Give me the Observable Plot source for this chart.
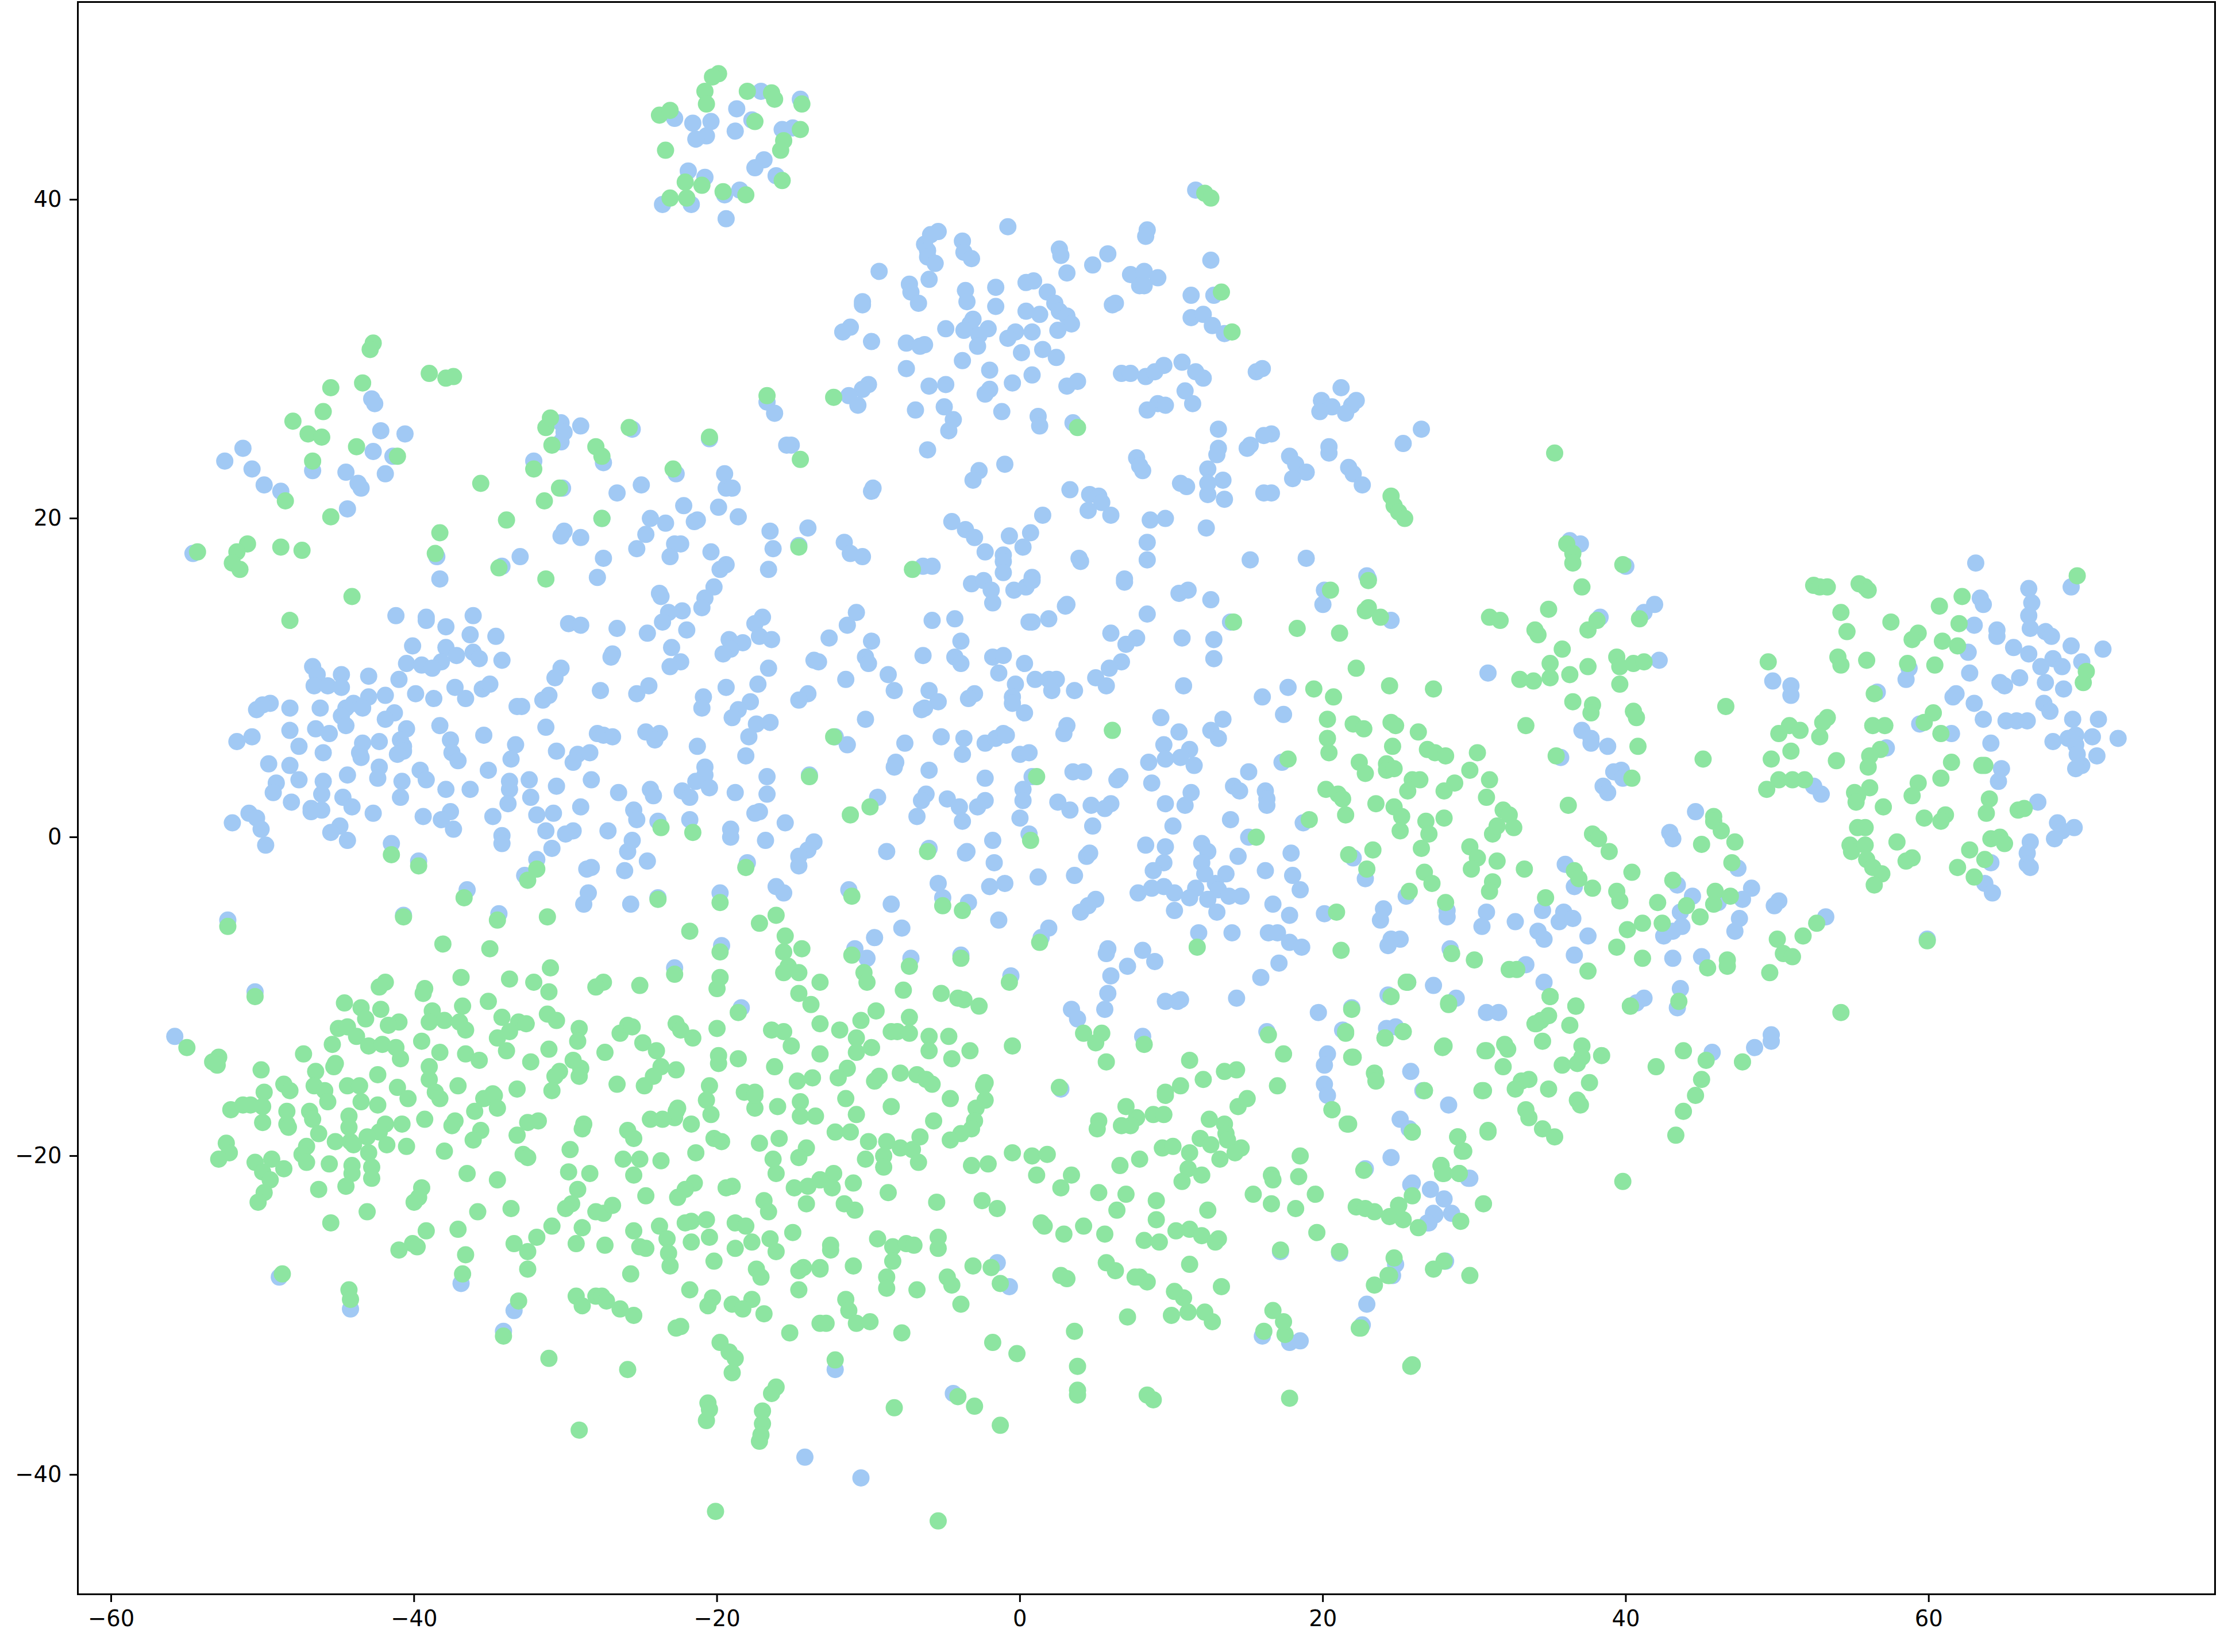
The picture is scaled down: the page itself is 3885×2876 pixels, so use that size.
<!DOCTYPE html>
<html>
<head>
<meta charset="utf-8">
<style>html,body{margin:0;padding:0;background:#fff}svg{display:block}</style>
<script src="https://cdn.jsdelivr.net/npm/d3@7"></script>
<script src="https://cdn.jsdelivr.net/npm/@observablehq/plot@0.6"></script>
</head>
<body>
<div id="chart"></div>
<script>
const xTicks = [-60,-40,-20,0,20,40,60];
const yTicks = [-40,-20,0,20,40];
const blueColor = "#a1c9f4";
const greenColor = "#8de5a1";

const bluePoints = [
[-22.8,45.1],[-21.6,44.8],[-20.4,44.9],[-18.7,45.7],[-17.1,46.8],[-14.5,46.3],[-17.7,45],[-18.8,44.3],[-20.7,44],[-21.4,43.8],[-15.7,44.4],[-15,44.5],[-16.9,42.5],[-17.5,42],[-16.1,41.5],[-21.9,41.8],[-20.8,41.4],[-18.5,40.6],[-19.5,40.3],[-23.6,39.7],[-21.7,39.7],[-19.4,38.8],
[-42.8,27.5],[-42.6,27.2],[-42.2,25.5],[-40.6,25.3],[-51.3,24.4],[-52.5,23.6],[-50.7,23.1],[-49.9,22.1],[-48.8,21.7],[-46.7,23],[-42.7,24.2],[-41.4,23.9],[-44.5,22.9],[-41.9,22.8],[-43.7,22.2],[-43.5,21.9],[-44.4,20.6],[-30.3,26],[-30.1,25.4],[-30.3,24.8],[-29,25.8],[-32.1,23.6],[-27.5,23.5],[-25.6,25.6],[-30.2,21.9],[-26.6,21.6],[-25,22.1],[-22.7,22.8],[-22.2,20.8],[-19.9,20.7],[-19.5,22.8],[-19.4,21.9],[-19,21.9],[-18.6,20.1],[-24.4,20],[-23.4,19.7],[-21.5,19.8],[-21.3,19.9],[-24.7,19],[-25.3,18.1],[-30.1,19.2],[-30.3,18.9],[-29,18.8],[-27.5,17.5],[-33,17.6],[-34.2,17],[-22.8,18.4],[-22.4,18.4],[-23.1,17.6],[-20.4,17.9],[-16.5,19.2],[-16.3,18.1],[-14,19.4],[-19.4,17.1],[-19.8,16.8],[-16.6,16.8],[-16.7,27.3],[-16.2,26.6],[-15.1,24.6],[-15.4,24.6],[-27.6,20],[-54.6,17.8],[-38.5,17.6],[-38.3,16.2],[-27.9,16.3],[-20.5,25],[-14.6,18.3],
[-0.8,38.3],[-5.4,38],[-5.9,37.8],[-6.3,37.2],[-6.1,36.8],[-6.1,36.4],[-5.6,36],[-3.8,37.4],[-3.7,36.7],[-3.2,36.3],[2.6,36.9],[2.7,36.5],[5.8,36.6],[4.8,35.9],[3.1,35.4],[8.4,38.1],[8.3,37.7],[12.6,36.2],[-9.3,35.5],[-6,35],[-7.3,34.7],[-7.2,34.2],[-6.7,33.5],[-10.4,33.6],[-10.4,33.4],[-11.2,32],[-11.7,31.7],[-9.8,31.1],[-3.6,34.3],[-3.5,33.6],[-1.6,34.5],[-1.6,33.3],[0.4,34.8],[0.9,34.9],[1.8,34.2],[2.3,33.5],[2.6,33],[3.1,32.7],[3.4,32.2],[2.5,31.8],[0.4,33],[1.3,32.8],[-3.1,32.5],[-3.3,32.2],[-3.7,31.8],[-4.9,31.9],[-2.1,31.9],[-2.7,31.5],[-2.8,30.8],[-0.3,31.7],[-0.8,31.3],[0.8,31.7],[-7.5,31],[-6.6,30.8],[-6.3,30.9],[0.1,30.4],[1.5,30.6],[2.4,30.1],[-3.8,29.9],[-7.5,29.4],[-2,29.3],[0.8,29],[-0.5,28.5],[-6,28.3],[-4.9,28.4],[-2,28.1],[-2.3,27.8],[3.1,28.3],[3.8,28.6],[-10,28.4],[-10.4,28.1],[-11.3,27.7],[-10.7,27.1],[-6.9,26.8],[-5,27],[-4.4,26.2],[-4.7,25.5],[-1.2,26.7],[1.2,26.4],[1.3,25.8],[3.5,26],[-6.1,24.3],[-2.7,23],[-3.1,22.4],[-1,23.4],[-9.7,21.9],[-9.8,21.7],[3.3,21.8],[4.6,21.5],[5.2,21.4],[5.4,21],[4.5,20.5],[1.5,20.2],[6,20.2],[-4.5,19.8],[-3.6,19.3],[-3,18.8],[-0.7,18.9],[0.7,19.1],[0.2,18.2],[-2.3,17.9],[-1.1,17.7],[-1.1,17.3],[-1.1,16.6],[-11.6,18.5],[-11.2,17.8],[-10.4,17.6],[3.9,17.5],[4,17.3],[8.6,19.9],[9.6,20],[12.3,19.4],[8.4,18.5],[8.4,17.4],[15.2,17.4],[18.9,17.5],[22.9,16.4],[-6.4,17],[-5.8,17],[0.8,16.3],[6.9,16.2],
[11.6,40.6],[11.3,34],[12.8,34],[11.3,32.6],[12.1,32.8],[12.7,32.1],[13.5,31.6],[6.1,33.4],[6.3,33.5],[7.3,35.3],[8.2,35.5],[9.1,35.1],[7.9,34.6],[8.2,34.6],[6.7,29.1],[7.3,29.1],[8.3,28.9],[8.9,29.2],[9.5,29.6],[10.7,29.8],[11.6,29.2],[12.1,28.8],[15.6,29.2],[16,29.4],[10.9,28],[11.4,27.2],[9.1,27.2],[9.6,27.1],[8.4,26.8],[21.2,28.2],[19.9,27.4],[20.6,27],[19.8,26.7],[22.2,27.4],[21.9,27.1],[21.5,26.6],[13.1,25.6],[26.5,25.6],[25.3,24.7],[16.6,25.3],[16.1,25.2],[15.2,24.6],[15,24.4],[13.1,24.4],[13,24],[20.4,24.5],[20.4,24.1],[17.8,23.9],[18.2,23.4],[18.9,22.9],[18,22.5],[21.7,23.2],[22,22.8],[22.6,22.1],[7.7,23.8],[7.9,23.3],[8.1,23],[12.4,23.1],[13.4,22.4],[12.4,22.2],[10.6,22.2],[11,22],[12.4,21.5],[13.5,21.2],[16.1,21.6],[16.6,21.6],
[-41.2,13.9],[-39.2,13.8],[-39.2,13.6],[-37.9,13.2],[-36.1,13.9],[-36.3,12.7],[-34.6,12.6],[-40.1,12],[-37.9,11.9],[-37.2,11.4],[-36.1,11.6],[-35.7,11.2],[-34.2,11.1],[-38.2,11],[-40.5,10.9],[-39.5,10.8],[-38.8,10.6],[-46.7,10.7],[-46.4,10.2],[-44.8,10.2],[-43,10.1],[-46.6,9.5],[-45.7,9.5],[-44.8,9.4],[-41,9.9],[-37.3,9.4],[-36.6,8.7],[-35.5,9.3],[-35,9.6],[-30.3,10.6],[-30.7,10],[-31.1,8.9],[-31.5,8.6],[-27.7,9.2],[-25.3,9],[-24.5,9.5],[-39.9,9],[-38.7,8.7],[-41.9,8.9],[-43,8.8],[-44,8.4],[-43.4,8.1],[-44.5,8.1],[-49.5,8.4],[-50,8.3],[-50.4,8],[-48.2,8.1],[-46.2,8.1],[-44.8,7.6],[-44.5,7],[-41.3,7.8],[-41.9,7.4],[-40.5,6.8],[-40.9,6.1],[-38.3,7],[-37.6,6.1],[-35.4,6.4],[-32.9,8.2],[-33.2,8.2],[-31.3,6.9],[-27.9,6.5],[-27.5,6.4],[-26.9,6.3],[-24.7,6.6],[-23.8,6.5],[-24.1,6.1],[-48.2,6.7],[-46.5,6.8],[-45.6,6.5],[-50.7,6.3],[-51.7,6],[-47.6,5.7],[-43.4,5.9],[-42.3,6],[-46,5.3],[-43.6,5.3],[-43.5,5],[-40.7,5.7],[-40.7,5.4],[-41.1,5.2],[-37.5,5.3],[-37.1,4.8],[-33.3,5.8],[-33.6,4.9],[-30.6,5.4],[-29.2,5.2],[-28.4,5.3],[-29.5,4.7],[-21.3,5.7],[-18.1,5.1],[-49.6,4.6],[-48.2,4.5],[-42.3,4.4],[-39.6,4.2],[-35.1,4.2],[-44.4,3.9],[-42.4,3.7],[-49.1,3.4],[-47.6,3.6],[-46,3.5],[-40.8,3.5],[-39.2,3.6],[-33.7,3.5],[-32.4,3.6],[-30.6,3.2],[-28.3,3.6],[-37.9,3],[-36.3,3],[-33.7,3],[-26.5,2.8],[-24.4,3],[-24.2,2.6],[-22.3,2.9],[-21.8,2.5],[-20.8,4.4],[-20.8,3.9],[-21.4,3.5],[-20.5,3.1],[-18.8,2.8],[-16.7,3.8],[-16.7,2.7],[-13.9,3.9],[-49.3,2.8],[-46.1,2.7],[-48.1,2.2],[-44.7,2.5],[-40.9,2.5],[-32.3,2.5],[-33.8,2.1],[-29,1.9],[-46.8,1.8],[-46.8,1.6],[-46.1,1.7],[-44.1,1.9],[-42.7,1.5],[-39.4,1.3],[-37.6,1.6],[-38.2,1.1],[-37.4,0.5],[-34.8,1.3],[-31.9,1.4],[-30.8,1.5],[-25.5,1.7],[-25.3,1.1],[-23.9,1],[-21.8,1.1],[-17.2,1.6],[-17.5,1.5],[-15.5,0.9],[-50.9,1.5],[-50.4,1.2],[-52,0.9],[-50.1,0.5],[-49.8,-0.5],[-44.9,0.7],[-45.5,0.3],[-44.4,-0.2],[-34.2,0.1],[-34.2,-0.4],[-31.3,0.4],[-29.5,0.4],[-30,0.2],[-27.2,0.4],[-19.1,0.5],[-19.1,0],[-16.8,-0.2],[-30.9,-0.7],[-25.6,-0.2],[-25.9,-0.9],[-24.6,-1.5],[-28.6,-2],[-28.3,-1.9],[-26.1,-2.1],[-13.6,-0.3],[-14,-0.8],[-14.6,-1.2],[-14.6,-1.8],[-41.5,-0.4],[-39.7,-1.5],[-31.9,-1.4],[-32.7,-2.4],[-18,-1.6],[-36.5,-3.3],[-28.5,-3.5],[-28.8,-4.2],[-25.7,-4.2],[-23.9,-3.8],[-19.8,-3.5],[-16.1,-3.1],[-15.6,-3.5],[-52.3,-5.2],[-40.7,-4.9],[-34.4,-4.8],[-19.7,-6.8],[-22.8,-8.2],[-50.5,-9.7],[-18.4,-10.7],[-55.8,-12.5],[-13.6,11.1],[-13.3,11],[-16.6,10.6],[-17.3,9.6],[-19.4,9.4],[-20.9,8.8],[-21,8.1],[-17.8,8.5],[-18.6,8],[-19,7.5],[-16.5,7.2],[-17.4,7.1],[-17.9,6.3],[-14,9],[-14.6,8.6],[-23.8,15.3],[-23.7,15.1],[-20.2,15.7],[-20.8,15],[-21,14.4],[-22.3,14.2],[-23.2,14.1],[-23.6,13.5],[-22,13],[-29.8,13.4],[-29,13.3],[-26.6,13.1],[-24.6,12.8],[-17,13.8],[-17.5,13.4],[-17.2,12.6],[-16.4,12.4],[-19.2,12.4],[-18.3,12.2],[-19.1,11.8],[-19.6,11.5],[-23,11.9],[-22.4,11],[-23.1,10.7],[-26.9,11.5],[-27,11.3],
[-48.9,-27.6],[-36.9,-28],[-44.2,-29.6],[-33.4,-29.7],[-34.1,-31],[-14.2,-38.9],
[-3.2,15.9],[-2.4,16.1],[-1.9,15.5],[-1.8,14.7],[-0.4,15.5],[0.4,15.7],[0.8,16.1],[6.9,16],[10.5,15.3],[11.1,15.5],[12.6,14.9],[3.1,14.6],[3,14.5],[8.4,14],[-10.8,14.1],[-11.4,13.3],[-5.8,13.6],[-4.3,13.7],[0.6,13.5],[0.8,13.5],[1.9,13.7],[6,12.8],[7.7,12.5],[7,12.1],[10.7,12.5],[12.8,12.4],[13.9,13.5],[-12.6,12.5],[-9.8,12.3],[-3.9,12.3],[6.7,11],[5.9,10.6],[5,10],[5.7,9.5],[12.8,11.2],[10.8,9.5],[-10.2,11.3],[-10,10.9],[-6.4,11.4],[-4.3,11.3],[-3.9,10.9],[-1.8,11.3],[-1.1,11.4],[0.3,10.9],[-1.4,10.3],[1,9.9],[1.9,9.9],[2.4,9.9],[2.1,9.2],[3.6,9.2],[-0.3,9.6],[-8.7,10.2],[-8.3,9.2],[-11.5,9.9],[-6,9.2],[-5.4,8.5],[-6.3,8.1],[-6.5,8],[-3,9],[-3.4,8.7],[-0.5,8.8],[-0.5,8.4],[0.3,7.8],[-10.2,7.4],[16,8.8],[17.7,9.4],[17.4,7.7],[9.3,7.5],[10.5,6.6],[13.4,7.4],[12.6,6.7],[13.1,6.2],[3.1,7],[2.9,6.5],[20,14.6],[20.1,15.5],[24.5,13.6],[23,16.2],[30.9,10.3],[-12.2,6.3],[-11.4,5.8],[-7.6,5.9],[-5.2,6.3],[-3.7,6.2],[-2.3,5.9],[-1.6,6.2],[-1.1,6.5],[-0.9,6.4],[-3.8,5.2],[0,5.2],[0.6,5.3],[9.5,5.8],[11.2,5.5],[10.6,5],[9.6,4.9],[8.5,4.7],[11.5,4.5],[15.1,4.1],[17.3,4.7],[-8.2,4.7],[-8.3,4.4],[-6,4.2],[-2.3,3.7],[0.8,3.8],[3.5,4.1],[4.2,4.1],[6.6,3.8],[6.4,3.6],[8.7,3.4],[14.1,3.2],[14.5,2.9],[16.2,2.9],[16.3,2.4],[16.3,2],[11.3,2.8],[9.6,2.1],[10.9,2],[0.2,3],[0.2,2.3],[2.5,2.2],[3.3,1.7],[4.7,2],[6,2.1],[5.6,1.8],[-6.2,2.7],[-6.5,2.3],[-4.8,2.4],[-4,1.9],[-2.3,2.3],[-2.8,1.9],[-9.4,2.5],[-6.8,1.3],[-3.8,1],[0,1.2],[4.8,0.7],[10.1,0.7],[13.9,1.1],[18.7,0.9],[15.1,0],[0.6,0.2],[-1.8,-0.2],[8.3,-0.5],[9.6,-0.6],[12,-0.4],[12.4,-0.9],[14.4,-1.2],[17.9,-1],[9.5,-1.6],[8.8,-2.1],[12,-1.6],[12.2,-2.3],[13.6,-2.3],[16.2,-2.1],[18,-2.4],[18.5,-3.3],[12.9,-2.9],[13.1,-3.3],[11.6,-3.2],[11.2,-3.8],[7.8,-3.5],[8.7,-3.2],[9.5,-3.1],[10.2,-3.5],[12.4,-3.9],[13.8,-3.7],[14.6,-3.7],[16.7,-4.2],[10.2,-4.6],[13,-4.7],[17.8,-4.9],[20.1,-4.8],[22,-1.3],[22.8,-2.6],[25.5,-3.7],[24,-4.5],[23.8,-5.2],[28.2,-4.6],[28.2,-5],[30.8,-4.7],[30.5,-5.6],[14,-6],[11.8,-6],[16.4,-6],[17,-6],[17.8,-6.6],[18.6,-6.9],[17.1,-7.9],[15.9,-8.8],[25.1,-6.4],[24.5,-6.4],[24.3,-6.8],[28.4,-7],[27.3,-9.3],[25.6,-9.1],[28.8,-10.1],[24.3,-9.9],[19.7,-11],[21.9,-10.7],[30.8,-11],[21.3,-12.1],[24.8,-11.9],[24.2,-12],[20.3,-13.6],[20.1,-14.3],[20.1,-15.5],[25.8,-14.7],[26.6,-15.9],
[-7.8,-5.7],[-9.6,-6.3],[-8.5,-4.2],[-11.3,-3.3],[-5.4,-2.9],[-5.1,-3.8],[-3.4,-4.1],[-2,-3.1],[-1,-2.9],[1.2,-2.5],[3.6,-2.4],[-1.7,-1.6],[-3.6,-1],[-3.5,-0.9],[-8.8,-0.9],[-6,-0.7],[4.4,-1.2],[4.6,-1],[5,-3.9],[4.5,-4.3],[4,-4.7],[-1.4,-5.2],[1.9,-5.7],[1.4,-6.3],[-10.9,-7],[-10.1,-7.6],[-7.2,-7.6],[-3.9,-7.4],[5.8,-7],[5.7,-7.3],[8.1,-7.1],[8.9,-7.8],[7.1,-8.1],[6,-8.7],[5.8,-9.8],[5.6,-10.8],[-0.6,-8.7],[3.4,-10.8],[3.8,-11.4],[9.6,-10.3],[10.4,-10.3],[10.6,-10.2],[14.3,-10.1],[8.1,-12.5],[16.3,-12.2],
[16,-31.3],[17.8,-31.7],[18.5,-31.6],[22.9,-29.3],[22.6,-30.6],[25.1,-17.7],[25.7,-18.3],[28.3,-16.8],[24.5,-20.1],[22.8,-20.8],[25.9,-21.7],[27.1,-22.1],[28,-22.7],[29.6,-21.4],[27.3,-23.6],[28.5,-23.6],[27,-24.2],[24.8,-26.8],[24.6,-27.5],[28.1,-26.6],[21.1,-26.1],[17.2,-26],[20.3,-16.2],[-1.5,-26.7],[-0.7,-28.2],[-12.2,-33.4],[-10.5,-40.2],[-4.4,-34.9],[2.7,-15.8],
[63.1,17.2],[66.6,15.6],[66.8,14.7],[66.6,13.9],[66.7,13.1],[67.7,12.9],[68.1,12.6],[69.4,15.7],[63.4,15],[63.6,14.6],[63,13.3],[64.5,13],[64.5,12.6],[65.6,11.9],[66.6,11.5],[69.4,12],[71.5,11.8],[68.2,11.2],[67.4,10.7],[68.8,10.7],[70.1,11],[62.6,11.6],[62.7,10.3],[66,10],[64.7,9.7],[65,9.5],[67.7,9.7],[68.9,9.3],[58.7,10.6],[58.5,9.9],[61.8,9],[61.6,8.8],[63,8.4],[56.6,9.1],[67.6,8.4],[68,7.9],[63.6,7.4],[65.1,7.3],[65.8,7.3],[66.5,7.3],[69.5,7.4],[71.2,7.4],[59.4,7.1],[61.5,6.5],[64.1,5.9],[68.2,6],[69.2,6.2],[69.7,6.4],[69.7,5.8],[69.8,5.2],[70.8,6.3],[72.5,6.2],[71.1,5.1],[70.1,4.5],[69.7,4.3],[57.2,5.6],[64.8,4.3],[64.6,3.5],[52.4,3.2],[52.9,2.7],[67.2,2.2],[68.5,0.9],[69.6,0.6],[68.8,0.4],[68.3,-0.1],[66.7,-0.3],[66.5,-1],[66.5,-1.7],[66.7,-1.9],[64.1,-1.6],[63.7,-2.9],[64.2,-3.5],[49.7,9.8],[50.9,9.5],[50.9,8.9],[35.7,5],[37.1,6.7],[37.7,6.2],[37.7,5.9],[38.8,5.7],[39.2,4.1],[39.7,4.2],[39.8,3.7],[38.5,3.2],[38.8,2.8],[42.2,11.1],[40,17],[36.3,18.6],[37,18.4],[38.3,13.8],[41.2,14.1],[41.9,14.6],[44.6,1.6],[42.9,0.3],[43.1,-0.1],[36,-1.7],[47.4,-1.95],[36.6,-3.1],[43.4,-3],[44.4,-3.7],[48.3,-3.2],[47.7,-3.9],[46.1,-4.1],[50.1,-4],[49.8,-4.3],[53.2,-5],[47.5,-5.1],[47.2,-5.9],[43.6,-4.7],[43.7,-5.6],[43.1,-5.9],[42.5,-6.2],[35.9,-4.7],[34.5,-4.6],[35.6,-5.3],[36.5,-5.1],[32.7,-5.3],[34.2,-5.9],[34.6,-6.4],[37.5,-6.2],[36.6,-7.4],[33.4,-8],[43.1,-7.6],[45,-7.5],[34.6,-9.1],[43.6,-9.5],[43.4,-10.7],[41.2,-10.1],[40.7,-10.4],[31.6,-11],[59.9,-6.4],[49.6,-12.4],[48.5,-13.2],[49.6,-12.8],[45.7,-13.5],[29.7,-21.4],[25.8,-21.8],[27.4,-23.7],[26.9,-24.2]
];

const greenPoints = [
[-19.9,47.9],[-20.3,47.7],[-20.8,46.8],[-20.7,46],[-18,46.8],[-16.4,46.7],[-16.2,46.3],[-14.4,46],[-23.8,45.3],[-23.1,45.6],[-17.5,44.9],[-14.5,44.4],[-15.6,43.7],[-15.8,43.1],[-23.4,43.1],[-15.7,41.2],[-22.1,41.1],[-21,40.9],[-19.6,40.5],[-18.1,40.3],[-23.1,40.1],[-22,40.1],
[-42.7,31],[-42.9,30.6],[-39,29.1],[-37.9,28.8],[-37.4,28.9],[-45.5,28.2],[-43.4,28.5],[-46,26.7],[-48,26.1],[-47,25.3],[-46.1,25.1],[-43.8,24.5],[-41.1,23.9],[-46.7,23.6],[-35.6,22.2],[-48.5,21.1],[-45.5,20.1],[-31.4,21.1],[-33.9,19.9],[-38.3,19.1],[-38.6,17.8],[-27.6,20],[-30.4,21.9],[-30.9,24.6],[-31.3,25.7],[-31,26.3],[-32.1,23.1],[-28,24.5],[-27.6,23.9],[-25.8,25.7],[-22.9,23.1],[-20.5,25.1],[-16.7,27.7],[-14.5,23.7],[-14.6,18.2],[-54.3,17.9],[-51,18.4],[-51.7,17.9],[-52,17.2],[-51.5,16.8],[-48.8,18.2],[-47.4,18],[-34.4,16.9],[-31.3,16.2],
[12.2,40.4],[12.6,40.1],[13.3,34.2],[14,31.7],[3.8,25.7],[-12.3,27.6],[24.5,21.4],[24.7,20.8],[25,20.4],[25.4,20],[-7.1,16.8],[35.3,24.1],
[-44.1,15.1],[-48.2,13.6],[-13.9,3.8],[-23.7,0.6],[-21.6,0.3],[-41.5,-1.1],[-39.7,-1.8],[-31.9,-2],[-32.5,-2.7],[-18.1,-1.9],[-36.7,-3.8],[-23.9,-3.9],[-19.8,-4.1],[-16.1,-4.9],[-17.2,-5.4],[-21.8,-5.9],[-52.3,-5.6],[-40.7,-5],[-34.5,-5.2],[-31.2,-5],[-38.1,-6.7],[-35,-7],[-19.8,-7.2],[-15.5,-6.2],[-15.6,-7.2],[-14.4,-7],[-15.3,-8.1],[-15.6,-8.5],[-14.6,-8.5],[-13.2,-9.1],[-22.8,-8.6],[-31,-8.2],[-41.9,-9.1],[-42.3,-9.4],[-36.9,-8.8],[-33.7,-8.9],[-32.1,-9.1],[-31.1,-9.7],[-27.5,-9.1],[-28,-9.4],[-25.1,-9.3],[-19.8,-8.8],[-20,-9.5],[-39.3,-9.5],[-39.4,-9.8],[-50.5,-10],[-14.6,-9.8],[-13.8,-10.5],[-18.6,-11],[-35.1,-10.3],[-44.6,-10.4],[-43.5,-10.7],[-42.2,-10.8],[-36.8,-10.6],[-43.2,-11.4],[-38.8,-10.9],[-34.2,-11.3],[-31.2,-11.1],[-30.6,-11.5],[-33.1,-11.6],[-32.6,-11.7],[-41,-11.6],[-41.7,-11.8],[-39,-11.6],[-38,-11.5],[-37,-11.6],[-36.6,-12.1],[-45,-12],[-44.4,-11.9],[-43.8,-12.5],[-29.1,-12],[-29.2,-12.8],[-33.7,-12.2],[-34.5,-12.6],[-26.4,-12.3],[-25.9,-11.8],[-25.6,-11.9],[-22.7,-11.7],[-22.4,-12.1],[-20,-12],[-21.6,-12.6],[-24.9,-12.9],[-24,-13.4],[-16.4,-12.1],[-15.6,-12.2],[-13.2,-11.7],[-45.4,-13],[-43,-13.1],[-42.1,-13],[-41.2,-13.2],[-40.9,-13.9],[-39.5,-12.8],[-38.3,-13.5],[-36.6,-13.6],[-35.7,-14],[-33.9,-13.4],[-31.1,-13.3],[-27.4,-13.5],[-15.1,-13.1],[-13.2,-13.6],[-55,-13.2],[-52.9,-13.8],[-53.3,-14.1],[-53,-14.3],[-47.3,-13.6],[-19.9,-13.7],[-19.9,-14.2],[-18.6,-13.9],[-16.2,-14.4],[-29.5,-14],[-29,-14.5],[-29.1,-15],[-30.4,-14.7],[-30.7,-15],[-32.3,-14.1],[-23.7,-14.4],[-22.7,-14.6],[-24.2,-15],[-24.8,-15.6],[-26.6,-15.5],[-20.5,-15.6],[-13.7,-15.1],[-14.7,-15.3],[-18.2,-16],[-45.2,-14.2],[-45.3,-14.4],[-46.5,-14.7],[-50.1,-14.6],[-42.4,-14.9],[-39,-14.4],[-39,-15.2],[-37.1,-15.6],[-41.1,-15.7],[-44.4,-15.6],[-43.6,-15.6],[-46.6,-15.6],[-45.9,-15.9],[-48.6,-15.5],[-48.2,-15.9],[-49.9,-16],[-38.6,-16],[-33.2,-15.8],[-30.9,-15.9],[-34.8,-16.1],[-17.5,-16],
[-52.1,-17.1],[-51.3,-16.8],[-50.8,-16.8],[-50,-16.9],[-48.4,-17.2],[-45.7,-16.6],[-43.5,-16.6],[-42.4,-16.8],[-40.4,-16.4],[-38.3,-16.4],[-35.4,-16.4],[-34.7,-16.2],[-34.5,-17],[-36,-17.2],[-46.9,-17.2],[-46.7,-17.7],[-44.3,-17.5],[-44.3,-18.2],[-50,-17.9],[-48.4,-18],[-48.3,-18.2],[-41.9,-18],[-40.8,-18],[-39.3,-17.7],[-37.3,-17.8],[-37.5,-18.1],[-32.5,-17.9],[-31.8,-17.8],[-28.8,-18],[-28.9,-18.3],[-35.6,-18.4],[-36.1,-19],[-33.2,-18.7],[-42.3,-18.5],[-43.1,-18.8],[-46.3,-18.6],[-45.2,-19.1],[-44.2,-19.1],[-44,-19.3],[-41.8,-19.3],[-40.5,-19.4],[-43,-19.8],[-38,-19.7],[-47.1,-19.4],[-47.4,-19.9],[-47.1,-20.4],[-52.4,-19.2],[-52.2,-19.8],[-52.9,-20.2],[-50.5,-20.4],[-49.4,-20.2],[-48.6,-20.8],[-50,-21],[-49.5,-21.5],[-45.6,-20.5],[-44.1,-20.6],[-44.1,-21.1],[-42.8,-20.7],[-42.8,-21.4],[-44.5,-21.9],[-46.3,-22.1],[-49.9,-22.3],[-50.3,-22.9],[-39.5,-22],[-39.7,-22.6],[-40,-22.9],[-43.1,-23.5],[-45.5,-24.2],[-39.2,-24.7],[-40.1,-25.5],[-39.8,-25.7],[-41,-25.9],[-37.1,-24.6],[-35.8,-23.5],[-36.6,-26.2],[-36.8,-27.4],[-48.7,-27.4],[-36.5,-21.1],[-34.5,-21.5],[-33.6,-23.3],[-32.8,-19.9],[-32.5,-20.1],[-29.7,-19.6],[-29.8,-21],[-28.4,-21.1],[-29.2,-22.1],[-29.6,-23],[-30,-23.3],[-30.9,-24.4],[-31.9,-25.1],[-33.4,-25.5],[-32.5,-26],[-32.5,-27.1],[-28.9,-24.5],[-29.3,-25.5],[-27.4,-25.6],[-28,-23.5],[-27.5,-23.6],[-26.9,-23.1],[-25.5,-24.7],[-25.1,-25.7],[-24.7,-25.8],[-25.7,-27.4],[-29.3,-28.8],[-28.9,-29.4],[-28,-28.8],[-27.6,-28.8],[-27.3,-29.1],[-26.4,-29.6],[-25.5,-30],[-33.1,-29.1],[-44.3,-28.4],[-44.2,-29],[-34.1,-31.3],[-31.1,-32.7],[-25.9,-33.4],[-29.1,-37.2],[-26.2,-20.2],[-25.1,-20.2],[-23.7,-20.3],[-25.5,-21.2],[-24.7,-22.5],[-25.9,-18.4],[-25.5,-18.9],[-21.4,-19.8],[-20.2,-18.9],[-19.7,-19.1],[-17.2,-19.2],[-15.9,-18.9],[-14.1,-19.5],[-14.6,-20.1],[-16.3,-20.2],[-16.1,-21.1],[-21.5,-21.7],[-22.1,-22.1],[-22.6,-22.6],[-19,-21.9],[-19.4,-22],[-14.9,-22],[-14,-21.9],[-13.2,-21.5],[-14.1,-23],[-16.9,-22.8],[-16.6,-23.5],[-23.8,-24.4],[-23.3,-25.2],[-23.2,-26.1],[-23.1,-26.9],[-22.1,-24.2],[-21.7,-24.1],[-20.7,-24],[-18.8,-24.2],[-18.1,-24.4],[-21.7,-25.4],[-20.5,-25.1],[-18.8,-25.8],[-17.7,-25.4],[-16.5,-25.2],[-16.1,-26],[-15,-24.8],[-20.2,-26.6],[-17.4,-27.1],[-17.1,-27.6],[-14.3,-27],[-14.6,-27.2],[-13.2,-27],[-14.6,-28.4],[-21.8,-28.4],[-20.3,-28.9],[-20.6,-29.4],[-19,-29.3],[-17.7,-29],[-18.3,-29.6],[-16.9,-29.9],[-22.4,-30.7],[-22.7,-30.8],[-15.2,-31.1],[-13.2,-30.5],[-19.8,-31.7],[-19.2,-32.3],[-18.8,-32.7],[-19,-33.6],[-16.1,-34.5],[-16.4,-34.9],[-20.6,-35.5],[-20.5,-35.9],[-20.7,-36.6],[-17,-36],[-17,-36.8],[-17.1,-37.5],[-17.2,-37.9],[-20.1,-42.3],[-14.5,-16.6],[-16,-16.9],[-17.5,-17],[-17.5,-16.2],[-20.7,-16.5],[-20.4,-17.4],[-22.7,-17.2],[-22.6,-17],[-22.8,-17.6],[-24.4,-17.7],[-23.6,-17.7],[-21.7,-18],[-14.5,-17.5],[-13.5,-17.5],
[20.5,15.5],[23,16.1],[14.1,13.5],[18.3,13.1],[21.1,12.8],[22.8,14.2],[23,14.4],[23.8,13.8],[31,13.8],[22.2,10.6],[19.4,9.3],[20.7,8.8],[24.4,9.5],[27.3,9.3],[6.1,6.7],[-12.3,6.3],[20.3,7.4],[22,7.1],[22.7,6.8],[24.5,7.2],[24.8,7],[26.3,6.6],[20.3,6.2],[20.4,5.3],[24.6,5.7],[26.9,5.5],[27.4,5.3],[28.1,5.1],[30.2,5.3],[17.7,4.9],[22.4,4.7],[24.2,4.6],[22.8,4],[24.2,4.2],[24.7,4.3],[29.7,4.2],[31,3.6],[25.9,3.6],[26.4,3.6],[28.7,3.4],[28,2.9],[25.6,2.9],[20.2,3],[21,2.7],[21.3,2.4],[23.5,2.1],[24.7,1.9],[25.2,1.3],[21.5,1.4],[30.8,2.5],[26.8,1],[28,1.2],[25.1,0.4],[27,0.2],[31.2,0.2],[15.6,0],[19.1,1.1],[26.5,-0.7],[29.7,-0.6],[30.2,-1.3],[21.7,-1.1],[23.3,-0.8],[22.9,-2],[29.8,-2],[26.7,-2.2],[27.2,-2.9],[25.7,-3.4],[31.2,-2.8],[31,-3.4],[20.9,-4.7],[28.1,-4.1],[1.1,3.8],[-9.9,1.9],[-11.2,1.4],[0.7,-0.2],[-6.1,-0.9],[-11.1,-3.7],[-5.1,-4.3],[-3.8,-4.6],[1.3,-6.6],[11.7,-6.9],[21.2,-7.1],[28.5,-7.3],[30,-7.7],[-11.1,-7.4],[-7.3,-8.1],[-3.9,-7.6],[-10.3,-8.5],[-10.1,-9.1],[-7.7,-9.6],[-5.2,-9.8],[-4.1,-10.1],[-3.7,-10.2],[-2.7,-10.6],[-0.7,-9.1],[24.5,-10],[25.6,-9.1],[28.3,-10.5],[21.9,-10.8],[-9.5,-10.9],[-10.5,-11.5],[-7.3,-11.3],[-11.9,-12.1],[-8.5,-12.2],[-8.1,-12.2],[-7.3,-12.3],[-6,-12.5],[-4.7,-12.5],[-10.8,-12.6],[-9.8,-13.2],[-10.8,-13.5],[-6,-13.4],[-3.3,-13.4],[-0.5,-13.1],[4.2,-12.3],[5.4,-12.3],[5,-12.9],[8.2,-13],[16.4,-12.4],[21.5,-12.2],[25.3,-12.2],[24.1,-12.6],[17.4,-13.6],[22,-13.8],[28,-13.1],[30.8,-13.4],[5.7,-14.1],[11.2,-14],[-4.5,-13.9],[13.5,-14.7],[14.3,-14.6],[12.1,-15.2],[17,-15.6],[23.4,-14.8],[23.5,-15.3],[26.7,-15.9],[30.6,-15.9],[10.6,-15.6],[9.6,-16],[-11.4,-14.5],[-12,-15.1],[-9.3,-15],[-9.6,-15.3],[-7.9,-14.8],[-6.8,-14.9],[-6.2,-15.2],[-5.8,-15.5],[-2.3,-15.4],[-2.4,-15.6],[2.6,-15.7],
[-11.5,-16.4],[-8.5,-16.9],[-4.6,-16.4],[-10.8,-17.4],[-5.7,-17.8],[-2.3,-16.5],[-2.9,-17],[-3,-17.8],[-3.2,-18.3],[-3.9,-18.6],[-4.6,-19],[-12.2,-18.5],[-11.2,-18.5],[-10,-19.1],[-8.8,-19.1],[-7.9,-19.5],[-7.1,-19.6],[-6.6,-18.8],[-10.2,-20.2],[-9,-20],[-9,-20.7],[-6.7,-20.4],[-12.3,-21.1],[-13.2,-21.5],[-11,-21.7],[-12.4,-22],[-8.7,-22.3],[-5.5,-22.9],[-11.6,-23],[-10.9,-23.4],[-3.2,-20.6],[-2.1,-20.5],[-0.5,-19.8],[0.8,-20],[1.8,-19.9],[1.1,-21.2],[3.4,-21.2],[2.7,-22],[5.2,-22.3],[7,-22.4],[9,-22.8],[6.4,-23.4],[-2.5,-22.8],[-1.5,-23.3],[12.4,-23.4],[9,-24],[1.4,-24.2],[1.6,-24.4],[2.9,-24.9],[4.2,-24.4],[5.6,-24.9],[8.2,-25.3],[9.2,-25.4],[10.3,-24.7],[11.2,-24.6],[12,-25],[13.1,-25.2],[12.9,-25.4],[-9.4,-25.2],[-8.4,-25.7],[-7.5,-25.5],[-7,-25.6],[-5.4,-25.1],[-5.4,-25.8],[-12.5,-25.6],[-12.5,-25.9],[-8.4,-26.6],[-11,-26.9],[-13.2,-27.1],[-8.8,-27.6],[-8.8,-28.3],[-6.8,-28.4],[-4.8,-27.6],[-4.5,-28.1],[-3.9,-29.3],[-3.1,-26.9],[-1.9,-27],[-1.3,-28],[-11.5,-29],[-11.3,-29.7],[-10.8,-30.5],[-9.9,-30.4],[-12.8,-30.5],[-7.8,-31.1],[-12.2,-32.8],[-1.8,-31.7],[-0.2,-32.4],[3.6,-31],[3.8,-33.2],[3.8,-34.7],[3.8,-35],[8.4,-35],[8.8,-35.3],[-4.1,-35.1],[-3,-35.7],[-1.3,-36.9],[-8.3,-35.8],[-5.4,-42.9],[17.8,-35.2],[25.9,-33.1],[22.5,-30.8],[16.1,-31],[17.5,-31.2],[17.4,-30.4],[16.7,-29.7],[7.1,-30.1],[10,-30],[11.1,-29.8],[12.2,-29.8],[12.7,-30.4],[10.8,-28.9],[10.2,-28.5],[13.3,-28.2],[8.4,-27.9],[7.9,-27.6],[7.6,-27.6],[6.3,-27.2],[5.7,-26.7],[11.2,-26.8],[3.1,-27.7],[2.7,-27.5],[17.2,-25.9],[19.6,-24.8],[21.1,-26],[23.4,-28.1],[24.4,-27.5],[24.7,-26.4],[27.3,-27.1],[28,-26.6],[29.7,-27.5],[22.2,-23.2],[22.8,-23.3],[23.4,-23.5],[24.4,-23.8],[25,-23.1],[25.3,-24],[26.3,-24.5],[29.1,-24.1],[30.6,-23],[25.9,-22.5],[19.5,-22.4],[18.2,-23.3],[16.6,-23],[15.4,-22.4],[16.6,-21.2],[16.7,-21.5],[18.4,-21.3],[18.5,-20],[22.7,-20.9],[29,-21.1],[27.9,-21.1],[27.8,-20.6],[29.3,-19.7],[28.9,-18.8],[30.9,-18.5],[25.9,-18.5],[21.7,-18],[20.6,-17.1],[14.4,-16.9],[15,-16.4],[12.5,-17.7],[13.5,-18],[13.6,-18.6],[13.7,-19],[14.6,-19.5],[14.2,-19.8],[13.2,-20.2],[11.9,-18.9],[12.6,-19.3],[11.2,-19.8],[9.4,-19.5],[10.1,-19.4],[7.9,-20.2],[6.6,-20.6],[11.1,-20.8],[12,-21.2],[10.7,-21.6],[8.8,-17.4],[9.5,-17.4],[7.7,-17.6],[7.3,-18.1],[6.7,-18.1],[5.2,-17.8],[5.1,-18.3],[7,-16.9],[9.6,-16.2],
[54.2,-11],[39.8,-21.6],[43.8,-13.4],[45.3,-14],[47.7,-14.1],[42,-14.4],[45,-15.2],[44.6,-16.2],[43.8,-17.2],[43.3,-18.7],[43.5,-10.3],[40.3,-10.6],[38.4,-13.7],[37.1,-13.1],[37.1,-13.8],[36.8,-14.2],[35.8,-14.3],[37.6,-15.4],[34.9,-15.8],[36.8,-16.5],[37,-16.8],[33.6,-15.2],[33.1,-15.3],[32.7,-15.8],[30.5,-15.9],[31.9,-14.4],[32,-13],[32.2,-13.3],[30.7,-13.4],[34.5,-12.8],[34.1,-11.7],[34.4,-11.5],[34.9,-11.2],[36.3,-11.8],[36.7,-10.6],[35,-10],[33.4,-17.1],[33.6,-17.6],[34.5,-18.3],[35.3,-18.8],[30.9,-18.4],[28.9,-18.8],[29.2,-19.7],[27.8,-20.6],[28,-21.1],[29,-21.1],[25.9,-18.5],[26.7,-15.9],[27.9,-13.2],[25.3,-12.2],[24.1,-12.6],[21.9,-13.8],[20.6,-17.1],[21.6,-18],[25,-23.1],[21.1,-26],[24.3,-27.5],[22.4,-30.8],[25.8,-33.2],[28.3,-10.4],[25.5,-9.1],[21.5,-12.3],
[69.8,16.4],[36.1,18.4],[36.5,17.8],[36.5,17.2],[39.8,17.1],[37.1,15.7],[31.7,13.6],[34.9,14.3],[34,13],[34.2,12.7],[35.8,11.8],[35,10.9],[38.1,13.6],[37.5,13],[40.9,13.7],[39.4,11.3],[39.6,10.7],[40.5,10.9],[41.2,11],[37.5,10.7],[36.3,10.2],[35,10],[33,9.9],[33.9,9.8],[39.6,9.6],[36.5,8.5],[37.8,8.3],[37.7,7.8],[40.5,7.9],[40.7,7.5],[46.6,8.2],[33.4,7],[40.8,5.7],[35.4,5.1],[45.1,4.9],[40.4,3.7],[36.2,2],[49.4,11],[52.4,15.8],[52.8,15.7],[53.3,15.7],[55.4,15.9],[55.8,15.7],[56,15.5],[54.2,14.1],[54.6,12.9],[57.5,13.5],[60.7,14.5],[62.2,15.1],[62,13.4],[59.3,12.8],[58.9,12.4],[60.9,12.3],[61.9,12],[54,11.3],[54.2,10.8],[55.9,11.1],[58.6,10.9],[60.4,10.8],[70.4,10.4],[70.2,9.7],[56.4,9],[60.3,7.8],[59.7,7.2],[53.3,7.5],[53,7.2],[50.8,7],[51.5,6.7],[50.1,6.5],[52.8,6.3],[56.3,7],[57.1,7],[60.8,6.5],[50.9,5.4],[49.6,4.9],[53.9,4.8],[56.8,5.5],[56.1,5.1],[56,4.4],[61.5,4.7],[63.5,4.5],[63.7,4.5],[60.8,3.7],[59.3,3.4],[58.9,2.6],[56.1,3.1],[55.1,2.8],[55.3,2.6],[55.2,2.2],[57,1.9],[50.1,3.6],[51,3.6],[51.8,3.6],[49.3,3],[64,2.4],[63.8,1.5],[65.9,1.7],[66.3,1.8],[59.7,1.2],[61.1,1.4],[60.8,1],[55.3,0.6],[55.8,0.6],[57.9,-0.3],[54.8,-0.5],[54.9,-0.9],[55.8,-0.5],[55.9,-1.4],[56.3,-1.9],[56.9,-2.3],[56.4,-3],[58.9,-1.3],[58.5,-1.5],[62.7,-0.8],[64.1,-0.1],[64.7,0],[65,-0.4],[63.7,-1.4],[61.9,-1.9],[63,-2.5],[52.6,-5.4],[51.7,-6.2],[50,-6.4],[50.4,-7.3],[51,-7.5],[49.5,-8.5],[59.9,-6.5],[45.8,1.3],[45.8,1],[46.3,0.4],[47.2,-0.3],[45,-0.45],[47,-1.6],[37.8,0.2],[38.2,-0.1],[38.9,-0.9],[40.4,-2.2],[36.6,-2.1],[36.9,-2.6],[37.8,-3.2],[34.7,-3.8],[31.9,1.7],[32.3,1.4],[32.6,0.6],[31.5,0.7],[31.5,-1.5],[33.3,-2],[39.4,-3.4],[39.6,-4],[43.1,-2.7],[45.9,-3.4],[45.8,-4.2],[46.9,-3.7],[44,-4.3],[44.9,-5],[42.1,-4.1],[42.4,-5.4],[41.1,-5.4],[40.1,-5.8],[39.4,-6.9],[41.1,-7.6],[37.5,-8.4],[32.3,-8.3],[32.8,-8.3],[35,-10],[36.7,-10.6],[40.3,-10.6],[46.7,-7.7],[46.7,-8.1],[45.4,-8.2],[34,-11.7]
];

const chart = Plot.plot({
  width: 3885,
  height: 2876,
  marginLeft: 135,
  marginRight: 30,
  marginTop: 3,
  marginBottom: 101,
  style: {fontFamily: "'DejaVu Sans', sans-serif", background: "#fff", color: "#000"},
  x: {domain: [-62.2, 78.9]},
  y: {domain: [-47.5, 52.4]},
  marks: [
    Plot.dot(bluePoints, {x: d => d[0], y: d => d[1], r: 15, fill: blueColor}),
    Plot.dot(greenPoints, {x: d => d[0], y: d => d[1], r: 15, fill: greenColor}),
    Plot.frame({stroke: "#000", strokeWidth: 3, strokeOpacity: 1}),
    Plot.axisX({ticks: xTicks, anchor: "bottom", label: null, tickSize: 14, tickPadding: 14, fontSize: 38.5, strokeWidth: 3, strokeOpacity: 1}),
    Plot.axisY({ticks: yTicks, anchor: "left", label: null, tickSize: 14, tickPadding: 14, fontSize: 38.5, strokeWidth: 3, strokeOpacity: 1})
  ]
});
document.getElementById("chart").appendChild(chart);
</script>
</body>
</html>
